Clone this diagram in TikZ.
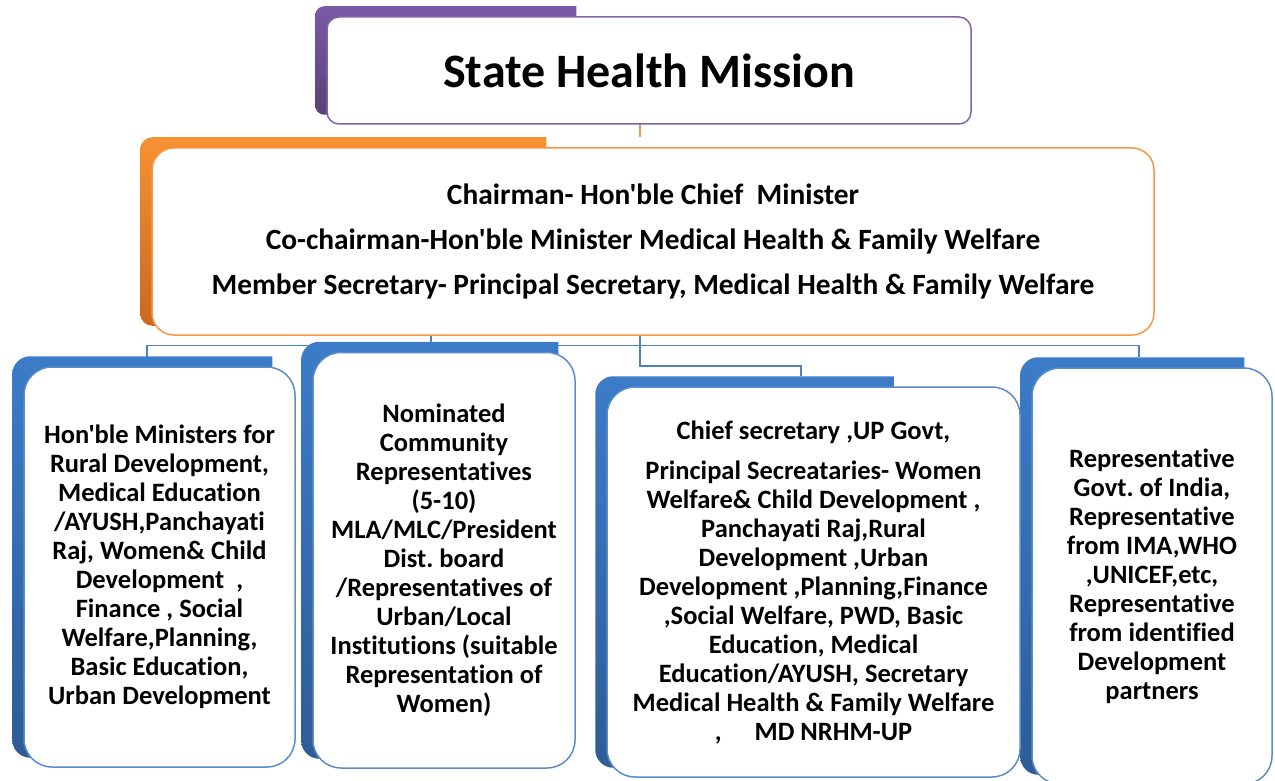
\documentclass[tikz,border=0pt]{standalone}
\usepackage{fontspec}
\setmainfont{Carlito}[Ligatures={TeXOff,NoCommon}]
\usetikzlibrary{calc,backgrounds}
\frenchspacing

\definecolor{purpleTop}{HTML}{7B5AA6}
\definecolor{purpleBot}{HTML}{5A4178}
\definecolor{purpleEdge}{HTML}{8064A2}
\definecolor{orangeTop}{HTML}{F79132}
\definecolor{orangeBot}{HTML}{C8691F}
\definecolor{orangeEdge}{HTML}{F79646}
\definecolor{blueTop}{HTML}{3C7CC8}
\definecolor{blueBot}{HTML}{2E5C96}
\definecolor{blueEdge}{HTML}{5A8CCB}
\definecolor{connBlue}{HTML}{4F81BD}

% tab behind a card: #1 card node, #2 tab width, #3 corner radius, #4 top colour, #5 bottom colour
\newcommand{\cardtab}[5]{%
  \shade[top color=#4, bottom color=#5]
    ($(#1.north west)+(-11+#2,-10)$)
    [rounded corners=#3] -- ($(#1.north west)+(-11,-10)$)
    -- ($(#1.south west)+(-11,-10)$)
    -- ($(#1.south west)+(-11+#2,-10)$) [sharp corners] -- cycle;}

\begin{document}
\begin{tikzpicture}[x=1pt,y=-1pt,
  card/.style={draw, fill=white, line width=1.5pt, inner sep=0pt, align=center},
  titlecard/.style={card, draw=purpleEdge, rounded corners=12pt,
    font=\fontsize{48}{56}\selectfont\bfseries},
  chaircard/.style={card, draw=orangeEdge, rounded corners=22pt,
    font=\fontsize{29.4}{45}\selectfont\bfseries},
  membercard/.style={card, draw=blueEdge, rounded corners=28pt,
    font=\fontsize{26.5}{29}\selectfont\bfseries},
  conn/.style={draw=connBlue, line width=1.5pt},
  orangeconn/.style={draw=orangeEdge, line width=1.5pt}]
\useasboundingbox (0,0) rectangle (1275,781);

\node[titlecard, minimum width=644pt, minimum height=107pt] (top) at (649,70.5)
  {State Health Mission};

\node[chaircard, minimum width=1002pt, minimum height=187pt] (chair) at (653,241.5)
  {Chairman- Hon'ble Chief\ \ Minister\\
   Co-chairman-Hon'ble Minister Medical Health \& Family Welfare\\
   Member Secretary- Principal Secretary, Medical Health \& Family Welfare};

\node[membercard, minimum width=271pt, minimum height=400pt] (b1) at (159.5,567)
  {Hon'ble Ministers for\\Rural Development,\\Medical Education\\/AYUSH,Panchayati\\
   Raj, Women\& Child\\Development\ \ ,\\Finance , Social\\Welfare,Planning,\\
   Basic Education,\\Urban Development};

\node[membercard, minimum width=262pt, minimum height=415.5pt] (b2) at (444,560.25)
  {Nominated\\Community\\Representatives\\(5-10)\\MLA/MLC/President\\Dist. board\\
   /Representatives of\\Urban/Local\\Institutions (suitable\\Representation of\\Women)};

\node[membercard, minimum width=413pt, minimum height=390pt] (b3) at (813.5,582)
  {Chief secretary ,UP Govt,\\[11pt]
   Principal Secreataries- Women\\Welfare\& Child Development ,\\
   Panchayati Raj,Rural\\Development ,Urban\\Development ,Planning,Finance\\
   ,Social Welfare, PWD, Basic\\Education, Medical\\Education/AYUSH, Secretary\\
   Medical Health \& Family Welfare\\,\hspace{33pt}MD NRHM-UP};

\node[membercard, minimum width=240pt, minimum height=416pt] (b4) at (1152,576)
  {Representative\\Govt. of India,\\Representative\\from IMA,WHO\\,UNICEF,etc,\\
   Representative\\from identified\\Development\\partners};

% junction points of the connectors
\coordinate (topfoot) at (640,124);
\coordinate (chairtab) at (640,137.5);
\coordinate (jA) at (431,345.7);
\coordinate (jB) at (640,366);
\coordinate (b1tab) at (147,357);
\coordinate (b2tab) at (431,342);
\coordinate (b3tab) at (801,376);
\coordinate (b4tab) at (1139,357);

\begin{pgfonlayer}{background}
  \draw[orangeconn] (topfoot) -- (chairtab);
  \draw[conn] (chair.south -| jA) -- (jA);
  \draw[conn] (jA) -| (b1tab);
  \draw[conn] (jA) -| (b4tab);
  \draw[conn] (chair.south -| jA) -- (b2tab);
  \draw[conn] (chair.south -| jB) -- (jB) -| (b3tab);

  \cardtab{top}{261}{9pt}{purpleTop}{purpleBot}
  \cardtab{chair}{406}{12pt}{orangeTop}{orangeBot}
  \cardtab{b1}{260}{18pt}{blueTop}{blueBot}
  \cardtab{b2}{257}{18pt}{blueTop}{blueBot}
  \cardtab{b3}{299}{18pt}{blueTop}{blueBot}
  \cardtab{b4}{224}{18pt}{blueTop}{blueBot}
\end{pgfonlayer}
\end{tikzpicture}
\end{document}
